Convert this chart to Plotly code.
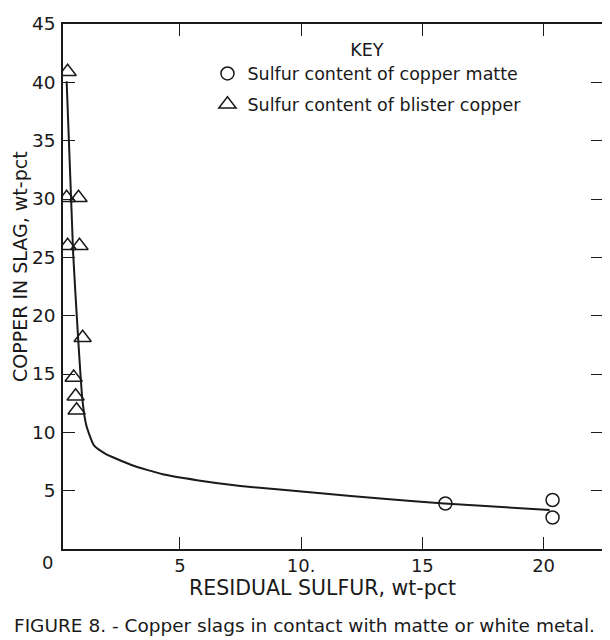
import plotly.graph_objects as go

# Data
matte_x = [15.95, 20.37, 20.37]
matte_y = [3.9, 4.2, 2.7]

blister_x = [0.37, 0.33, 0.82, 0.37, 0.86, 0.99, 0.62, 0.70, 0.74]
blister_y = [40.9, 30.1, 30.1, 26.0, 26.0, 18.1, 14.7, 13.1, 11.9]

curve_x = [0.33, 0.60, 0.80, 0.98, 1.14, 1.45, 1.90, 3.0, 4.3, 5.7, 7.5, 10.7, 13.4, 15.9, 20.25]
curve_y = [40.1, 25.3, 18.2, 12.8, 10.6, 8.9, 8.2, 7.2, 6.4, 5.9, 5.4, 4.8, 4.3, 3.9, 3.35]

x_ticks = [5, 10, 15, 20]
x_tick_text = ["5", "10.", "15", "20"]
y_ticks = [5, 10, 15, 20, 25, 30, 35, 40, 45]

FONT = "DejaVu Sans"
INK = "#1a1a1a"

# page has an 8px body margin; figure box sits at (8, 8)
OFF = 8
W, H = 610 - OFF, 640 - OFF
ML, MR, MT, MB = 55, 5, 7, 91
PW, PH = W - ML - MR, H - MT - MB


def px(xp):
    return (xp - OFF - ML) / PW


def py(yp):
    return (H - MB - (yp - OFF)) / PH


fig = go.Figure()
fig.add_trace(go.Scatter(
    x=curve_x, y=curve_y, mode="lines",
    line=dict(color=INK, width=2, shape="spline", smoothing=0.5),
    showlegend=False, hoverinfo="skip"))
fig.add_trace(go.Scatter(
    x=matte_x, y=matte_y, mode="markers", name="Sulfur content of copper matte",
    legendgroup="a",
    marker=dict(symbol="circle-open", size=13, color=INK, line=dict(width=1.5, color=INK))))
fig.add_trace(go.Scatter(
    x=blister_x, y=blister_y, mode="markers", name="Sulfur content of blister copper",
    legendgroup="b",
    marker=dict(symbol="triangle-up-open", size=15, color=INK, line=dict(width=1.5, color=INK))))

fig.update_layout(
    width=W, height=H,
    margin=dict(l=ML, r=MR, t=MT, b=MB),
    paper_bgcolor="white", plot_bgcolor="white",
    font=dict(family=FONT, size=18, color=INK),
    legend=dict(
        title=dict(text="KEY", side="top center", font=dict(size=17.5)),
        x=px(208), y=py(24), xanchor="left", yanchor="top",
        bgcolor="rgba(0,0,0,0)", font=dict(size=17.5),
        itemwidth=30, traceorder="grouped", tracegroupgap=5),
    xaxis=dict(
        range=[0.18, 22.45], tickmode="array", tickvals=x_ticks, ticktext=x_tick_text,
        ticks="inside", ticklen=12, tickwidth=1.2, tickcolor=INK,
        showline=True, linecolor=INK, linewidth=1.5, mirror="ticks",
        showgrid=False, zeroline=False, tickfont=dict(size=18)),
    yaxis=dict(
        range=[0, 45], tickmode="array", tickvals=y_ticks,
        ticks="inside", ticklen=12, tickwidth=1.2, tickcolor=INK,
        showline=True, linecolor=INK, linewidth=1.5, mirror="ticks",
        showgrid=False, zeroline=False, tickfont=dict(size=18.5), ticklabelstandoff=2,
        ticklabeloverflow="allow"),
    annotations=[
        dict(text="0", x=px(47), y=py(563), xref="paper", yref="paper", showarrow=False,
             xanchor="center", yanchor="middle", font=dict(size=18)),
        dict(text="RESIDUAL SULFUR, wt-pct", x=px(323), y=py(589), xref="paper", yref="paper",
             xanchor="center", yanchor="middle", showarrow=False, font=dict(size=20.5)),
        dict(text="COPPER IN SLAG, wt-pct", x=px(20), y=py(262), xref="paper", yref="paper",
             xanchor="center", yanchor="middle", textangle=-90, showarrow=False,
             font=dict(size=19)),
        dict(text="FIGURE 8. - Copper slags in contact with matte or white metal.",
             x=px(305), y=py(627), xref="paper", yref="paper", xanchor="center", yanchor="middle",
             showarrow=False, font=dict(size=18.5)),
    ],
)

fig.write_html("out.html")
